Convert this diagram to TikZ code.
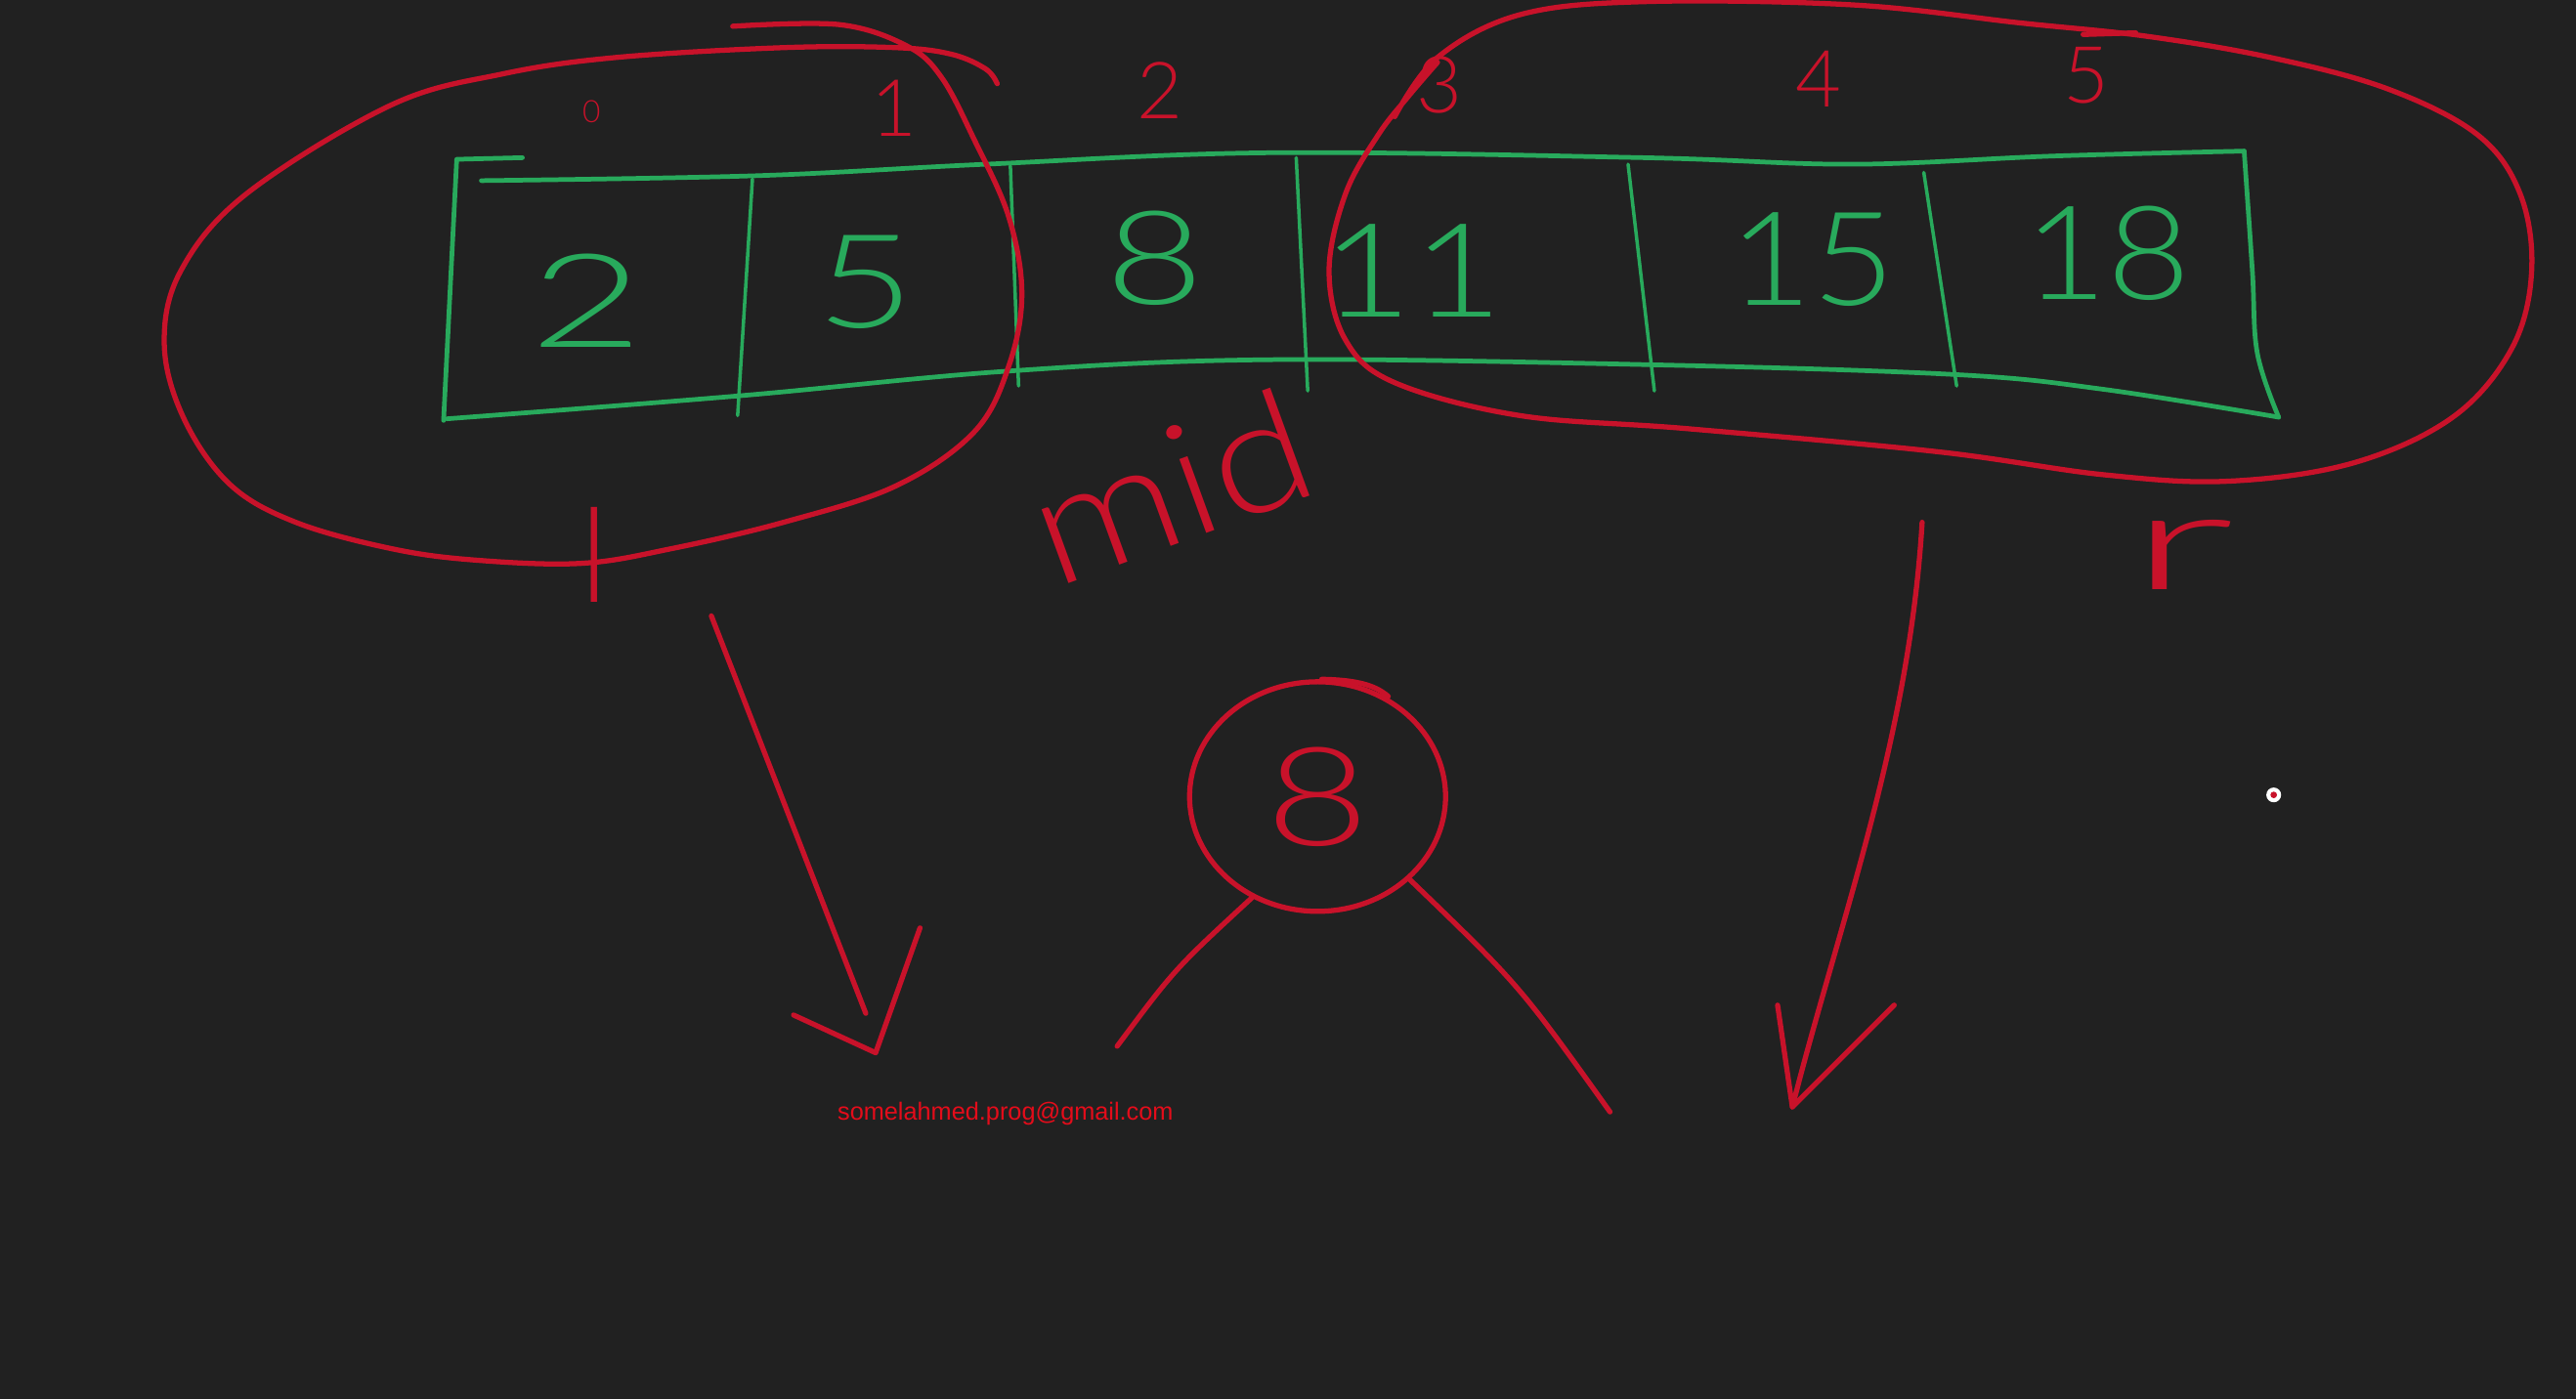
\documentclass[tikz,border=0pt]{standalone}
\usepackage{fontspec}
\setmainfont{Liberation Sans}
\newfontfamily\hand{Lato Light}
\usetikzlibrary{shapes.geometric}
\definecolor{bg}{RGB}{33,33,33}
\definecolor{grn}{RGB}{40,170,92}
\definecolor{rd}{RGB}{200,18,42}
\definecolor{mailred}{RGB}{228,12,26}
\begin{document}
\begin{tikzpicture}[x=0.01681cm,y=-0.01681cm,line cap=round,line join=round,
  gline/.style={draw=grn,line width=1.35pt},
  gdiv/.style={draw=grn,line width=1.0pt},
  rline/.style={draw=rd,line width=1.5pt},
  gnum/.style={text=grn,font=\hand\fontsize{38}{40}\selectfont,inner sep=0pt},
  ridx/.style={text=rd,font=\hand\fontsize{23}{26}\selectfont,inner sep=0pt},
  rlab/.style={text=rd,inner sep=0pt}]
\fill[bg] (0,0) rectangle (1568,852);
\useasboundingbox (0,0) rectangle (1568,852);

% green array
\draw[gline] (318,96) -- (278,97) -- (270,256);
\draw[gline] plot[smooth,tension=0.6] coordinates {(293,110) (460,107) (600,100) (773,93) (1000,96) (1128,100) (1250,95) (1366,92)};
\draw[gline] plot[smooth,tension=0.6] coordinates {(1366,92) (1371,165) (1374,215) (1387,254)};
\draw[gline] plot[smooth,tension=0.6] coordinates {(272,255) (450,241) (613,226) (773,219) (1001,222) (1189,228) (1280,237) (1387,254)};
\draw[gdiv] (458,109) -- (449,253);
\draw[gdiv] (615,101) -- (620,235);
\draw[gdiv] (789,96) -- (796,238);
\draw[gdiv] (991,100) -- (1007,238);
\draw[gdiv] (1171,105) -- (1191,235);

\node[gnum] (v0) at (357,183) {\scalebox{1.5}[1]{2}};
\node[gnum] (v1) at (527,172) {\scalebox{1.3}[1]{5}};
\node[gnum] (v2) at (703,157) {\scalebox{1.3}[1]{8}};
\node[gnum] (v3) at (860,165) {\scalebox{1.2}[1]{11}};
\node[gnum] (v4) at (1103,158) {\scalebox{1.1}[1]{15}};
\node[gnum] (v5) at (1283,154) {\scalebox{1.1}[1]{18}};

% indices
\node[ridx,font=\hand\fontsize{9}{10}\selectfont] (i0) at (360,68) {0};
\node[ridx] (i1) at (544,66) {1};
\node[ridx] (i2) at (706,55) {2};
\node[ridx] (i3) at (876,52) {3};
\node[ridx] (i4) at (1107,48) {4};
\node[ridx] (i5) at (1270,46) {5};

% left loop
\draw[rline] plot[smooth,tension=0.6] coordinates {(446,16) (511,15) (552,28) (573,47) (593,85) (614,132) (622,179) (614,223) (593,263) (545,296) (477,318) (409,334) (354,343) (289,341) (238,334) (180,318) (140,295) (112,255) (100,210) (110,165) (150,118) (238,64) (306,45) (375,35) (477,29) (545,29) (579,33) (600,42) (607,51)};
% right loop
\draw[rline] plot[smooth,tension=0.6] coordinates {(849,71) (875,35) (925,9) (1001,1) (1128,3) (1230,14) (1306,22) (1382,35) (1453,54) (1508,82) (1534,118) (1541,165) (1529,212) (1493,254) (1432,282) (1356,293) (1280,289) (1179,275) (1027,261) (925,253) (849,233) (819,207) (809,165) (819,118) (839,82) (857,59) (875,38)};
\draw[rline] (1268,21) -- (1300,20);

% labels
\node[rlab,font=\hand\fontsize{38}{40}\selectfont] (lab) at (362,338) {l};
\node[rlab,font=\hand\fontsize{46}{48}\selectfont,rotate=20] (mid) at (712,296) {\scalebox{1.15}[1]{mid}};
\node[rlab,font=\hand\fontsize{40}{44}\selectfont] (rlabel) at (1328,338) {\scalebox{2.2}[1]{r}};

% mid element circle
\node[draw=rd,line width=1.5pt,ellipse,minimum width=2.62cm,minimum height=2.35cm,inner sep=0pt,
  text=rd,font=\hand\fontsize{40}{44}\selectfont] (eight) at (802,485) {\scalebox{1.3}[1]{8}};
\draw[rline] (eight.88) .. controls (828,414) and (838,418) .. (845,424);
\coordinate (lb) at (680,637);
\coordinate (rb) at (980,677);
\draw[rline] (eight.-123) .. controls (715,590) .. (lb);
\draw[rline] (eight.-42) .. controls (925,600) .. (rb);

% arrows
\coordinate (la1) at (433,375);
\coordinate (la2) at (527,617);
\coordinate (lt) at (533,641);
\coordinate (lh1) at (483,618);
\coordinate (lh2) at (560,565);
\draw[rline] (la1) -- (la2);
\draw[rline] (lh1) -- (lt) -- (lh2);

\coordinate (ra1) at (1170,318);
\coordinate (rt) at (1091,674);
\coordinate (rh1) at (1082,612);
\coordinate (rh2) at (1153,612);
\draw[rline] (ra1) .. controls (1162,450) and (1120,560) .. (rt);
\draw[rline] (rh1) -- (rt) -- (rh2);

% email
\node[text=mailred,font=\fontsize{7.2}{9}\selectfont,inner sep=0pt] (mail) at (612,678) {somelahmed.prog@gmail.com};

% pointer dot
\fill[white] (1384,484) circle[radius=4.5];
\fill[rd] (1384,484) circle[radius=2];
\end{tikzpicture}
\end{document}
